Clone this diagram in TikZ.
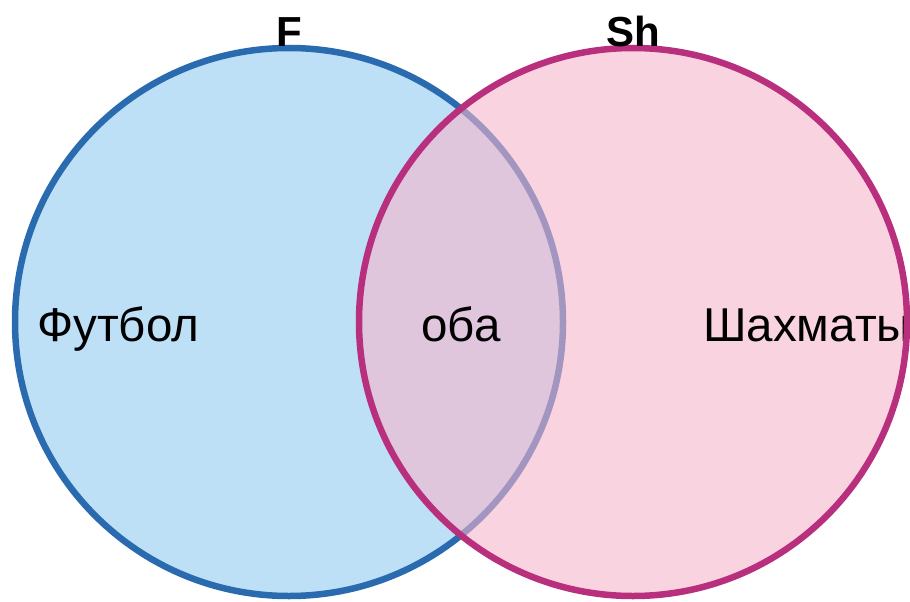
\documentclass[tikz,border=0pt]{standalone}
\usepackage{fontspec}
\setmainfont{Liberation Sans}
\definecolor{fblue}{RGB}{189,224,247}
\definecolor{fbluel}{RGB}{42,107,176}
\definecolor{shpink}{RGB}{247,180,203}
\definecolor{shline}{RGB}{184,48,125}
\begin{document}
\begin{tikzpicture}[x=1pt,y=-1pt,
  setcirc/.style={circle,minimum size=548pt,inner sep=0pt,outer sep=0pt},
  lbl/.style={font=\fontsize{47.5}{52}\selectfont,inner sep=0pt},
  ttl/.style={font=\fontsize{42}{46}\selectfont\bfseries,inner sep=0pt,anchor=base}]
\useasboundingbox (0,0) rectangle (910,602);
\clip (0,0) rectangle (910,602);
\node[setcirc,fill=fblue,draw=fbluel,line width=6.5pt] (F) at (289,322) {};
\node[setcirc,fill=shpink,fill opacity=0.59] (Sh) at (633,322) {};
\node[lbl,anchor=base west] (lf) at (37,341) {Футбол};
\node[lbl,anchor=base] (lb) at (461,341) {оба};
\node[lbl,anchor=base west] (ls) at (703,341) {Шахматы};
\node[setcirc,draw=shline,line width=6.5pt] (Shb) at (Sh.center) {};
\node[ttl] (tF) at (289,47) {F};
\node[ttl] (tSh) at (633,47) {Sh};
\end{tikzpicture}
\end{document}
